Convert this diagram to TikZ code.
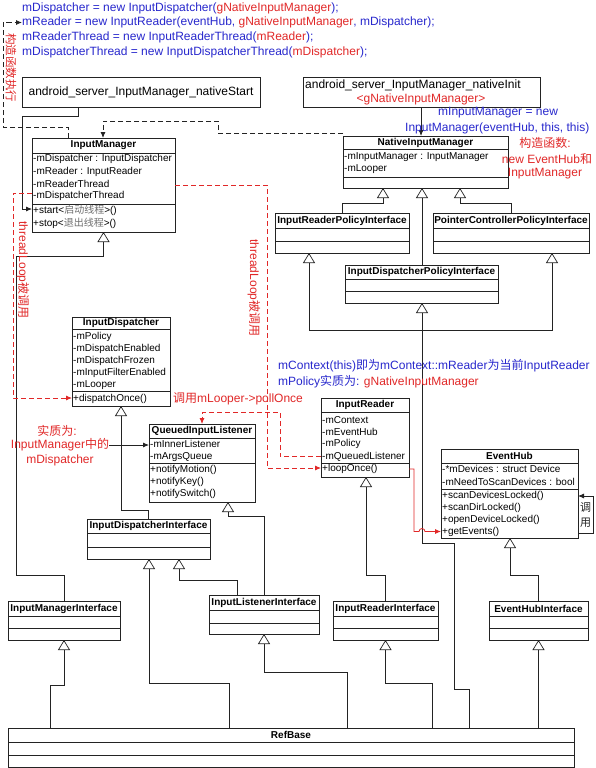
\documentclass[tikz,border=0pt]{standalone}
\usepackage{fontspec}
\setmainfont{Liberation Sans}
\newfontfamily\cjk{Noto Sans CJK SC}
\usetikzlibrary{arrows.meta}
\definecolor{cblue}{RGB}{40,40,205}
\definecolor{cred}{RGB}{225,40,40}
\definecolor{cline}{RGB}{35,35,35}
\definecolor{cgray}{RGB}{110,110,110}
\tikzset{
  box/.style={draw=cline, line width=0.8pt, anchor=north west, inner sep=0pt, outer sep=0pt, fill=white},
  ttl/.style={font=\bfseries\fontsize{10}{12}\selectfont, inner sep=0pt, anchor=center},
  attr/.style={font=\fontsize{10}{12}\selectfont, inner sep=0pt, anchor=west},
  code/.style={font=\fontsize{12}{14}\selectfont, inner sep=0pt, anchor=west},
  gen/.style={draw=cline, line width=0.7pt, -{Triangle[open, length=10pt, width=12pt, fill=white]}},
  plain/.style={draw=cline, line width=0.7pt},
  arr/.style={draw=cline, line width=0.8pt, -{Latex[length=6pt, width=5pt]}},
  blackdash/.style={draw=cline, line width=0.8pt, dash pattern=on 5pt off 3pt, -{Latex[length=6pt, width=5pt]}},
  reddash/.style={draw=cred, line width=0.8pt, dash pattern=on 5pt off 3pt, -{Latex[length=6pt, width=5pt]}},
  redsolid/.style={draw=cred, line width=0.8pt, -{Latex[length=6pt, width=5pt]}},
  vtext/.style={rotate=-90, font=\fontsize{12}{12}\selectfont, text=cred, inner sep=0pt}
}
\newcommand\UMLbox[8]{%
  \node[box, minimum width={(#4-#2)*1pt}, minimum height={(#5-#3)*1pt}] (#1) at (#2,#3) {};
  \draw[cline, line width=0.8pt] (#2,#6) -- (#4,#6);
  \draw[cline, line width=0.8pt] (#2,#7) -- (#4,#7);
  \node[ttl] (#1-t) at ({(#2+#4)/2},{(#3+#6)/2}) {#8};
}
\newcommand\UMLrow[4]{\node[attr] (#1) at (#2,#3) {#4};}
\begin{document}
\begin{tikzpicture}[x=1pt,y=-1pt]
\useasboundingbox (0,0) rectangle (595,768);
\fill[white] (0,0) rectangle (595,768);

% ---- top code lines
\node[code] (c1) at (22,8) {\textcolor{cblue}{mDispatcher = new InputDispatcher(}\textcolor{cred}{gNativeInputManager}\textcolor{cblue}{);}};
\node[code] (c2) at (22,22.5) {\textcolor{cblue}{mReader = new InputReader(eventHub, }\textcolor{cred}{gNativeInputManager}\textcolor{cblue}{, mDispatcher);}};
\node[code] (c3) at (22,37) {\textcolor{cblue}{mReaderThread = new InputReaderThread(}\textcolor{cred}{mReader}\textcolor{cblue}{);}};
\node[code] (c4) at (22,52) {\textcolor{cblue}{mDispatcherThread = new InputDispatcherThread(}\textcolor{cred}{mDispatcher}\textcolor{cblue}{);}};
\node[vtext, font=\cjk\fontsize{11.5}{12}\selectfont] (vt1) at (11,68) {构造函数执行};

% ---- plain boxes
\node[box, minimum width=238pt, minimum height=30pt] (ns) at (22,77) {};
\node[code, anchor=center] (ns-t) at (ns.center) {android\_server\_InputManager\_nativeStart};
\node[box, minimum width=237pt, minimum height=30pt] (ni) at (303,77) {};
\node[code] (ni-t) at (305,85) {android\_server\_InputManager\_nativeInit};
\node[code, anchor=center, text=cred] (ni-r) at (421,99) {<gNativeInputManager>};

% ---- UML classes
\UMLbox{im}{32}{138}{175}{232}{153}{204}{InputManager}
\UMLrow{im1}{33}{159}{-mDispatcher : InputDispatcher}
\UMLrow{im2}{33}{171.5}{-mReader : InputReader}
\UMLrow{im3}{33}{184}{-mReaderThread}
\UMLrow{im4}{33}{196}{-mDispatcherThread}
\UMLrow{im5}{33}{210}{+start<{\cjk\color{cgray}启动线程}>()}
\UMLrow{im6}{33}{223}{+stop<{\cjk\color{cgray}退出线程}>()}

\UMLbox{nim}{343}{136}{508}{188}{149}{177}{NativeInputManager}
\UMLrow{nim1}{344}{157}{-mInputManager : InputManager}
\UMLrow{nim2}{344}{169}{-mLooper}

\UMLbox{irpi}{275}{213}{409}{253}{228}{241}{InputReaderPolicyInterface}
\UMLbox{pcpi}{433}{213}{589}{253}{228}{241}{PointerControllerPolicyInterface}
\UMLbox{idpi}{345}{265}{498}{303}{279}{291}{InputDispatcherPolicyInterface}

\UMLbox{id}{72}{317}{170}{406}{329}{391}{InputDispatcher}
\UMLrow{id1}{73}{337}{-mPolicy}
\UMLrow{id2}{73}{349}{-mDispatchEnabled}
\UMLrow{id3}{73}{361}{-mDispatchFrozen}
\UMLrow{id4}{73}{373}{-mInputFilterEnabled}
\UMLrow{id5}{73}{385}{-mLooper}
\UMLrow{id6}{73}{399}{+dispatchOnce()}

\UMLbox{qil}{149}{424}{255}{502}{438}{463}{QueuedInputListener}
\UMLrow{qil1}{150}{444}{-mInnerListener}
\UMLrow{qil2}{150}{457}{-mArgsQueue}
\UMLrow{qil3}{150}{470}{+notifyMotion()}
\UMLrow{qil4}{150}{482}{+notifyKey()}
\UMLrow{qil5}{150}{494}{+notifySwitch()}

\UMLbox{ir}{321}{398}{409}{477}{412}{463}{InputReader}
\UMLrow{ir1}{322}{420}{-mContext}
\UMLrow{ir2}{322}{432}{-mEventHub}
\UMLrow{ir3}{322}{444}{-mPolicy}
\UMLrow{ir4}{322}{456.5}{-mQueuedListener}
\UMLrow{ir5}{322}{469}{+loopOnce()}

\UMLbox{eh}{441}{449}{578}{538}{463}{489}{EventHub}
\UMLrow{eh1}{442}{469}{-*mDevices : struct Device}
\UMLrow{eh2}{442}{482}{-mNeedToScanDevices : bool}
\UMLrow{eh3}{442}{496}{+scanDevicesLocked()}
\UMLrow{eh4}{442}{507.5}{+scanDirLocked()}
\UMLrow{eh5}{442}{519.5}{+openDeviceLocked()}
\UMLrow{eh6}{442}{531.5}{+getEvents()}

\UMLbox{idi}{87}{519}{210}{559}{533}{547}{InputDispatcherInterface}
\UMLbox{imi}{8}{601}{120}{640}{616}{628}{InputManagerInterface}
\UMLbox{ili}{209}{595}{319}{634}{610}{623}{InputListenerInterface}
\UMLbox{iri}{333}{601}{438}{640}{616}{628}{InputReaderInterface}
\UMLbox{ehi}{489}{601}{588}{640}{616}{628}{EventHubInterface}
\UMLbox{rb}{8}{728}{574}{767}{742}{755}{RefBase}

% ---- generalization connectors
\draw[gen] (imi.north) -- (64,575) -- (16,575) -- (16,256) -- (103.5,256) -- (im.south);
\draw[gen] (irpi.north) -- (342,203) -- (383,203) -- (383,188);
\draw[gen] (pcpi.north) -- (511,203) -- (460,203) -- (460,188);
\draw[gen] (idpi.north -| 422,265) -- (422,188);
\draw[gen] (469,728) -- (469,689) -- (454,689) -- (454,543) -- (422,543) -- (422,303);
\draw[gen] (422,330) -- (309,330) -- (309,253);
\draw[gen] (422,330) -- (552,330) -- (552,253);
\draw[gen] (idi.north) -- (148.5,510) -- (121,510) -- (id.south);
\draw[gen] (229,728) -- (229,683) -- (149,683) -- (149,559);
\draw[gen] (237,595) -- (237,580) -- (179,580) -- (179,559);
\draw[gen] (ili.north) -- (264,516) -- (228,516) -- (228,502);
\draw[gen] (347,728) -- (347,672) -- (264,672) -- (ili.south);
\draw[gen] (iri.north) -- (385.5,575) -- (366,575) -- (366,477);
\draw[gen] (432,728) -- (432,683) -- (385.5,683) -- (iri.south);
\draw[gen] (ehi.north) -- (538.5,575) -- (510,575) -- (510,538);
\draw[gen] (538.5,728) -- (ehi.south);
\draw[gen] (50,728) -- (50,685) -- (64,685) -- (imi.south);

% ---- other connectors
\draw[arr] ([xshift=-63pt]ns.south) -- (78,116) -- (22,116) -- (22,209) -- (32,209);
\draw[arr] ([xshift=-0.5pt]ni.south) -- (421,136);
\draw[blackdash] ([yshift=3pt]nim.north west) -- (218,133) -- (218,121) -- (103,121) -- (103,138);
\draw[blackdash] (68,138) -- (68,127) -- (3,127) -- (3,22.5) -- (c2.west);
\draw[reddash] (32,193) -- (13,193) -- (13,398) -- (72,398);
\draw[reddash] (175,185) -- (267,185) -- (267,468) -- (321,468);
\draw[reddash] (321,456.5) -- (280,456.5) -- (280,412) -- (202,412) -- (qil.north);
\draw[redsolid] (409,469) -- (414,469) -- (414,531.5) -- (419,531.5) arc[start angle=180, end angle=360, radius=3] -- (441,531.5);
\draw[arr] (578,533) -- (593,533) -- (593,496) -- (578,496);
\node[font=\cjk\fontsize{11}{12}\selectfont, text=cline, inner sep=0pt] (eh-c1) at (585.5,507) {调};
\node[font=\cjk\fontsize{11}{12}\selectfont, text=cline, inner sep=0pt] (eh-c2) at (585.5,523) {用};

% ---- annotations
\node[vtext] (vt2) at (23,270) {threadLoop{\cjk 被调用}};
\node[vtext] (vt3) at (254,288) {threadLoop{\cjk 被调用}};
\node[code, text=cblue] (a1) at (438,113) {mInputManager = new};
\node[code, text=cblue] (a2) at (405,128) {InputManager(eventHub, this, this)};
\node[code, anchor=center, text=cred] (a3) at (545,143) {{\cjk 构造函数}:};
\node[code, anchor=center, text=cred] (a4) at (547,159) {new EventHub{\cjk 和}};
\node[code, anchor=center, text=cred] (a5) at (545,174) {InputManager};
\node[code, text=cblue] (b1) at (278,366) {mContext(this){\cjk 即为}mContext::mReader{\cjk 为当前}InputReader};
\node[code, text=cblue] (b2) at (278,382) {mPolicy{\cjk 实质为}: \textcolor{cred}{gNativeInputManager}};
\node[code, text=cred] (b3) at (173,399) {{\cjk 调用}mLooper->pollOnce};
\node[code, anchor=center, text=cred] (d1) at (57,431) {{\cjk 实质为}:};
\node[code, anchor=center, text=cred] (d2) at (60,445) {InputManager{\cjk 中的}};
\node[code, anchor=center, text=cred] (d3) at (60,460) {mDispatcher};
\draw[arr] (d2.east) -- (149,445);
\end{tikzpicture}
\end{document}
